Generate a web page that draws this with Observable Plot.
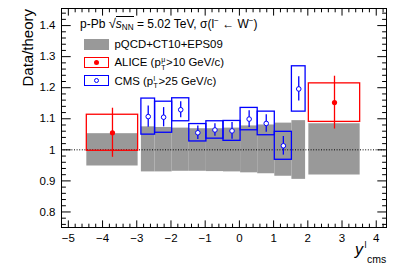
<!DOCTYPE html>
<html><head><meta charset="utf-8">
<script src="https://cdn.jsdelivr.net/npm/d3@7"></script>
<script src="https://cdn.jsdelivr.net/npm/@observablehq/plot@0.6"></script>
<style>
body{margin:0;background:#fff;font-family:"Liberation Sans",Arial,Helvetica,sans-serif;}
#wrap{position:relative;width:399px;height:271px;overflow:hidden;}
.t{position:absolute;white-space:nowrap;color:#000;line-height:1;}
.ss{display:inline-block;vertical-align:-3.5px;font-size:7px;line-height:7.6px;text-align:left;margin:0 0.5px;}
.ss span{display:block;}
sub,sup{font-size:0.68em;line-height:0;}
.sw{position:absolute;width:25px;height:11px;box-sizing:border-box;}
</style></head><body><div id="wrap"></div>
<script>
// CMS bins (y_cms), values, stat and syst uncertainties
const cmsLo  = [-2.865, -2.465, -1.965, -1.465, -0.965, -0.465, 0.035, 0.535, 1.035, 1.535];
const cmsHi  = [-2.465, -1.965, -1.465, -0.965, -0.465, 0.035, 0.535, 1.035, 1.535, 1.935];
const cmsVal = [1.107, 1.105, 1.129, 1.055, 1.064, 1.061, 1.099, 1.085, 1.013, 1.196];
const cmsStat= [0.034, 0.031, 0.026, 0.022, 0.020, 0.027, 0.027, 0.028, 0.030, 0.039];
const cmsSys = [0.058, 0.050, 0.037, 0.028, 0.028, 0.032, 0.036, 0.038, 0.045, 0.073];
// theory band in CMS bins
const thTop  = [1.074, 1.072, 1.070, 1.068, 1.068, 1.070, 1.077, 1.080, 1.086, 1.094];
const thBot  = [0.929, 0.929, 0.931, 0.931, 0.930, 0.929, 0.926, 0.923, 0.915, 0.905];
// ALICE bins
const aliceLo  = [-4.46, 2.03];
const aliceHi  = [-2.96, 3.53];
const aliceVal = [1.055, 1.152];
const aliceStat= [0.079, 0.085];
const aliceSys = [0.058, 0.062];
const aliceThTop = [1.052, 1.084];
const aliceThBot = [0.948, 0.919];
// axis ticks
const xTicks = [-5, -4, -3, -2, -1, 0, 1, 2, 3, 4];
const yTicks = [0.8, 0.9, 1.0, 1.1, 1.2, 1.3, 1.4];

const cms = cmsLo.map((lo, i) => ({lo, hi: cmsHi[i], x: (lo + cmsHi[i]) / 2, v: cmsVal[i], st: cmsStat[i], sy: cmsSys[i], tt: thTop[i], tb: thBot[i]}));
const alice = aliceLo.map((lo, i) => ({lo, hi: aliceHi[i], x: (lo + aliceHi[i]) / 2, v: aliceVal[i], st: aliceStat[i], sy: aliceSys[i], tt: aliceThTop[i], tb: aliceThBot[i]}));
const band = [...alice, ...cms];

const xMinor = d3.range(-26, 22).map(i => i / 5).filter(v => Math.abs(v - Math.round(v)) > 1e-6);
const yMinor = d3.range(38, 73).filter(i => i % 5 !== 0).map(i => i / 50);

const font = "Liberation Sans, Arial, sans-serif";
const chart = Plot.plot({
  width: 399, height: 271,
  marginLeft: 61, marginRight: 13, marginTop: 8, marginBottom: 44,
  style: {fontFamily: font, background: "#fff", overflow: "visible"},
  x: {domain: [-5.2, 4.3]},
  y: {domain: [0.75, 1.455]},
  marks: [
    Plot.rect(band, {x1: "lo", x2: "hi", y1: "tb", y2: "tt", fill: "#999"}),
    Plot.ruleY([1], {stroke: "#000", strokeWidth: 1, strokeDasharray: "1,1.6"}),
    Plot.rect(alice, {x1: "lo", x2: "hi", y1: d => d.v - d.sy, y2: d => d.v + d.sy, fill: "none", stroke: "#f00", strokeWidth: 1.3}),
    Plot.ruleX(alice, {x: "x", y1: d => d.v - d.st, y2: d => d.v + d.st, stroke: "#f00", strokeWidth: 1.3}),
    Plot.dot(alice, {x: "x", y: "v", r: 2.6, fill: "#f00", stroke: "none"}),
    Plot.rect(cms, {x1: "lo", x2: "hi", y1: d => d.v - d.sy, y2: d => d.v + d.sy, fill: "none", stroke: "#00f", strokeWidth: 1.3}),
    Plot.ruleX(cms, {x: "x", y1: d => d.v - d.st, y2: d => d.v + d.st, stroke: "#00f", strokeWidth: 1.3}),
    Plot.dot(cms, {x: "x", y: "v", r: 2.3, fill: "#fff", stroke: "#00f", strokeWidth: 1}),
    Plot.frame({stroke: "#000", strokeWidth: 1}),
    // tick labels
    Plot.axisX(xTicks, {anchor: "bottom", tickSize: 0, tickPadding: 6, fontSize: 11.5, label: null}),
    Plot.axisY(yTicks, {anchor: "left", tickSize: 0, tickPadding: 6, fontSize: 11.5, label: null, tickFormat: d3.format(".1~f")}),
    // inward tick marks, all four sides
    Plot.axisX(xTicks, {anchor: "bottom", tickSize: -6.6, fill: "none", label: null}),
    Plot.axisX(xMinor, {anchor: "bottom", tickSize: -3.3, fill: "none", label: null}),
    Plot.axisX(xTicks, {anchor: "top", tickSize: -6.6, fill: "none", label: null}),
    Plot.axisX(xMinor, {anchor: "top", tickSize: -3.3, fill: "none", label: null}),
    Plot.axisY(yTicks, {anchor: "left", tickSize: -9.7, fill: "none", label: null}),
    Plot.axisY(yMinor, {anchor: "left", tickSize: -4.9, fill: "none", label: null}),
    Plot.axisY(yTicks, {anchor: "right", tickSize: -9.7, fill: "none", label: null}),
    Plot.axisY(yMinor, {anchor: "right", tickSize: -4.9, fill: "none", label: null})
  ]
});
const wrap = document.getElementById("wrap");
wrap.appendChild(chart);

const html = `
<div class="t" style="left:20px;top:87px;width:78px;text-align:right;font-size:15px;transform-origin:0 0;transform:rotate(-90deg);">Data/theory</div>
<div class="t" style="left:80px;top:16.5px;font-size:12px;">p-Pb <span style="font-size:13px">&#8730;</span><span style="border-top:1px solid #000;padding-top:0px;"><i>s</i><sub style="vertical-align:-0.25em">NN</sub></span> = 5.02 TeV, &sigma;(l<sup style="vertical-align:0.6em">&minus;</sup> &larr; W<sup style="vertical-align:0.6em">&minus;</sup>)</div>
<div class="sw" style="left:84px;top:38.5px;background:#999;height:11px;"></div>
<div class="t" style="left:114.5px;top:38.5px;font-size:11.4px;">pQCD+CT10+EPS09</div>
<div class="sw" style="left:84px;top:56.5px;border:1.3px solid #f00;"></div>
<div style="position:absolute;left:94px;top:59.5px;width:5px;height:5px;border-radius:50%;background:#f00;"></div>
<div class="t" style="left:114.5px;top:56px;font-size:11.4px;">ALICE (p<span class="ss"><span>&mu;</span><span>T</span></span>&gt;10 GeV/c)</div>
<div class="sw" style="left:84px;top:75px;border:1.3px solid #00f;"></div>
<div style="position:absolute;left:93.8px;top:77.8px;width:5.4px;height:5.4px;box-sizing:border-box;border-radius:50%;border:1px solid #00f;background:#fff;"></div>
<div class="t" style="left:114.5px;top:74.5px;font-size:11.4px;">CMS (p<span class="ss"><span>l</span><span>T</span></span>&gt;25 GeV/c)</div>
<div class="t" style="left:355px;top:242px;font-size:16px;font-style:italic;">y</div>
<div class="t" style="left:364.5px;top:241px;font-size:9px;">l</div>
<div class="t" style="left:367px;top:253.5px;font-size:10.5px;">cms</div>
`;
const ov = document.createElement("div");
ov.innerHTML = html;
while (ov.firstElementChild) wrap.appendChild(ov.firstElementChild);
</script></body></html>
